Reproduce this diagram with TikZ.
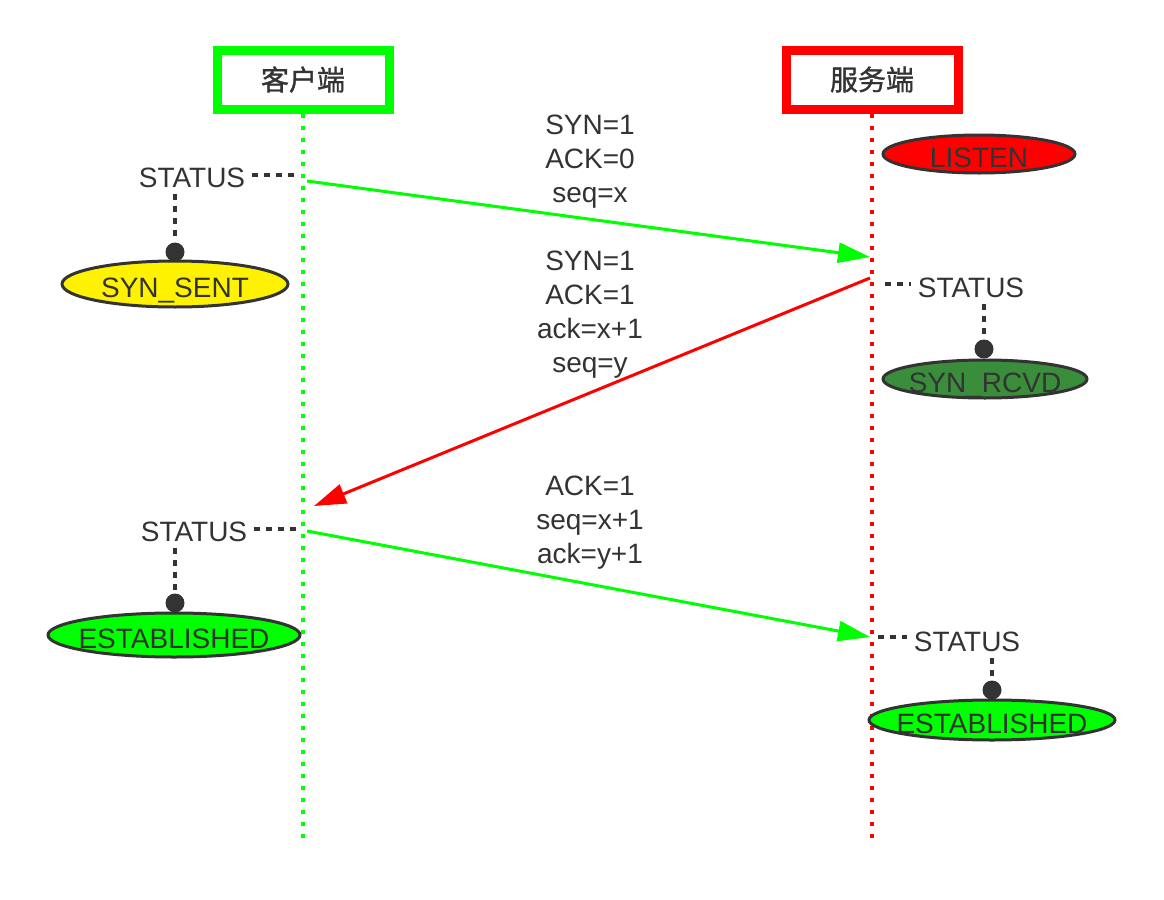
\documentclass[tikz,border=0pt]{standalone}
\usepackage{fontspec}
\setmainfont{Liberation Sans}
\newfontfamily\cjk{Noto Sans CJK SC}[FakeBold=1.2]
\usetikzlibrary{arrows.meta,shapes.geometric}
\definecolor{dark}{HTML}{333333}
\definecolor{cgreen}{HTML}{00FF00}
\definecolor{cred}{HTML}{FF0000}
\definecolor{rcvd}{HTML}{3A8D3A}
\begin{document}
\begin{tikzpicture}[x=0.5pt, y=-0.5pt, font=\fontsize{14pt}{17pt}\selectfont, line cap=butt]
	\tikzset{party/.style={draw=#1, line width=4.5pt, minimum width=86pt, minimum height=29.5pt, inner sep=0pt, text=dark, font=\fontsize{14pt}{17pt}\selectfont\cjk},
		life/.style={draw=#1, line width=2pt, dash pattern=on 2pt off 4pt},
		msg/.style={draw=#1, line width=1.5pt, -{Triangle[length=16pt, width=10pt]}},
		tag/.style={text=dark, inner sep=3pt},
		link/.style={draw=dark, line width=2pt, dash pattern=on 3pt off 3pt},
		knob/.style={circle, fill=dark, minimum size=9.5pt, inner sep=0pt},
		state/.style={ellipse, draw=dark, line width=1.5pt, fill=#1, text=dark, inner xsep=-6pt, inner ysep=0pt, text height=13pt, text depth=0pt},
		note/.style={align=center, text=dark}}
	\useasboundingbox (0,0) rectangle (1164,900);
	% parties and lifelines
	\node[party=cgreen] (client) at (303,79.5) {客户端};
	\node[party=cred] (server) at (872,79.5) {服务端};
	\coordinate (cend) at (303,845);
	\coordinate (send) at (872,845);
	\draw[life=cgreen] (client.south) -- (cend);
	\draw[life=cred] (server.south) -- (send);
	% messages
	\coordinate (c1) at (307,181);
	\coordinate (s1) at (870,257);
	\coordinate (s2) at (870,278);
	\coordinate (c2) at (314,506);
	\coordinate (c3) at (307,531);
	\coordinate (s3) at (870,637);
	\draw[msg=cgreen] (c1) -- (s1);
	\draw[msg=cred] (s2) -- (c2);
	\draw[msg=cgreen] (c3) -- (s3);
	\node[note] (m1) at (590,162) {SYN=1\\ACK=0\\seq=x};
	\node[note] (m2) at (590,315) {SYN=1\\ACK=1\\ack=x+1\\seq=y};
	\node[note] (m3) at (590,523) {ACK=1\\seq=x+1\\ack=y+1};
	% client states
	\node[tag] (cst1) at (192,178) {STATUS};
	\coordinate (cl1) at (298,175);
	\draw[link] (cst1.east |- cl1) -- (cl1);
	\node[state=yellow, minimum width=113pt, minimum height=23pt] (sent) at (175,284) {SYN\_SENT};
	\node[knob] (kn1) at (175,252) {};
	\draw[link] (kn1 |- cst1.south) -- (kn1);
	\node[tag] (cst2) at (194,532) {STATUS};
	\coordinate (cl2) at (298,529);
	\draw[link] (cst2.east |- cl2) -- (cl2);
	\node[state=cgreen, minimum width=126pt, minimum height=22pt] (cest) at (174,635) {ESTABLISHED};
	\node[knob] (kn2) at (175,603) {};
	\draw[link] (kn2 |- cst2.south) -- (kn2);
	% server states
	\node[state=cred, minimum width=96pt, minimum height=19pt] (listen) at (979,154) {LISTEN};
	\node[tag] (sst1) at (971,288) {STATUS};
	\coordinate (sl1) at (885,284);
	\draw[link] (sl1) -- (sst1.west |- sl1);
	\node[state=rcvd, minimum width=102pt, minimum height=19pt] (rcvd) at (985,379) {SYN\_RCVD};
	\node[knob] (kn3) at (984,349) {};
	\draw[link] (kn3 |- sst1.south) -- (kn3);
	\node[tag] (sst2) at (967,642) {STATUS};
	\coordinate (sl2) at (878,637);
	\draw[link] (sl2) -- (sst2.west |- sl2);
	\node[state=cgreen, minimum width=123pt, minimum height=20pt] (sest) at (992,720) {ESTABLISHED};
	\node[knob] (kn4) at (992,690) {};
	\draw[link] (kn4 |- sst2.south) -- (kn4);
\end{tikzpicture}
\end{document}
